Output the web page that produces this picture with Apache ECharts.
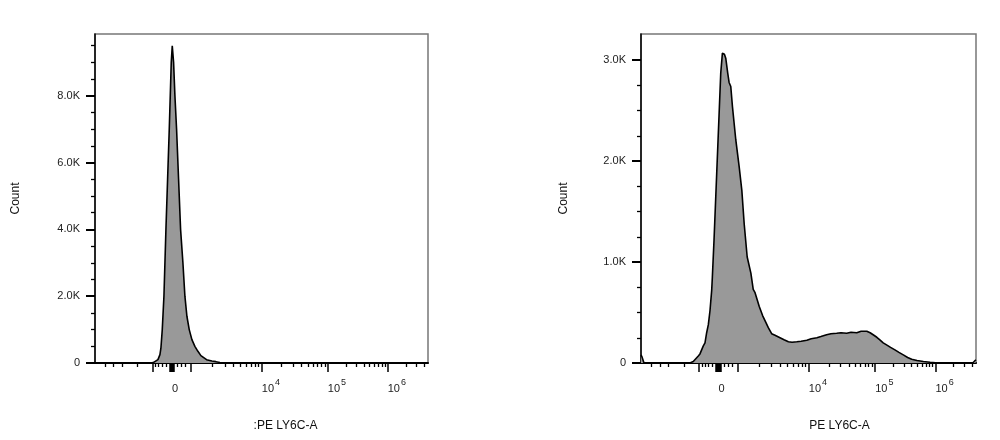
<!DOCTYPE html>
<html><head><meta charset="utf-8">
<script src="https://cdn.jsdelivr.net/npm/echarts@6/dist/echarts.min.js"></script>
<style>html,body{margin:0;padding:0;background:#fff}#c{width:1000px;height:440px}</style>
</head><body><div id="c"></div>
<script>
// ---- data (x in display channels 0..1000 of the biexponential axis, y = Count) ----
const leftChannels = [0,165,175,180,189,195,198,202,207,213,218,223,229,232,236,240,245,251,257,264,270,276,283,291,300,309,318,335,351,363,375,381,1000];
const leftCounts   = [0,0,10,30,100,250,450,1000,2000,4000,5500,7000,9000,9500,9000,8000,7000,5500,4000,3000,2000,1400,1000,700,500,350,220,100,60,40,15,0,0];

const rightChannels = [0,3,9,121,146,156,171,176,186,191,196,201,206,211,213,218,222,226,230,234,238,243,246,249,253,259,263,268,273,283,293,301,308,317,328,335,340,353,363,373,380,390,400,415,427,440,451,465,478,495,508,525,537,554,567,584,597,614,627,644,657,674,684,693,704,713,723,733,745,758,770,783,796,808,824,843,863,888,990,996,1000];
const rightCounts   = [80,60,0,0,0,15,70,90,170,200,300,380,520,720,850,1220,1550,1880,2210,2540,2870,3070,3075,3060,3020,2870,2780,2740,2540,2210,1945,1710,1380,1050,890,730,700,560,470,400,350,290,275,250,230,210,205,210,215,225,240,250,262,280,290,295,300,295,305,300,315,315,300,280,255,230,200,180,155,130,105,80,55,37,25,15,8,0,0,20,30];

// ---- axes ----
const leftYMax = 9850, rightYMax = 3260;
const leftYMajor = [0,2000,4000,6000,8000];
const leftYMinor = [500,1000,1500,2500,3000,3500,4500,5000,5500,6500,7000,7500,8500,9000,9500];
const rightYMajor = [0,1000,2000,3000];
const rightYMinor = [250,500,750,1250,1500,1750,2250,2500,2750];

const xLabelValues = [0,1e4,1e5,1e6];
const xLabelExp    = ['',  '4', '5', '6'];
const xMajorValues = [-1000,-120,-80,-40,0,40,80,120,1000,1e4,1e5,1e6];
const xMinorValues = [-9000,-6000,-4000,-2000,-850,-700,-500,-300,300,500,700,
  2e3,3e3,4e3,5e3,6e3,7e3,8e3,9e3,
  2e4,3e4,4e4,5e4,6e4,7e4,8e4,9e4,
  2e5,3e5,4e5,5e5,6e5,7e5,8e5,9e5,
  2e6,3e6,4e6];

const leftXName = ':PE LY6C-A';
const rightXName = 'PE LY6C-A';
const yName = 'Count';

// biexponential display transform (fluorescence value -> channel)
function chan(v){
  if (Math.abs(v) <= 1000) return 231 + v*0.058;
  if (v < -1000) return 173 - 150*Math.log10(-v/1e3);
  if (v < 1e4) return 289 + 212*Math.log10(v/1e3);
  if (v < 1e5) return 501 + 198*Math.log10(v/1e4);
  if (v < 1e6) return 699 + 180*Math.log10(v/1e5);
  return 879 + 180*Math.log10(v/1e6);
}

const FONT = 'Liberation Sans, Arial, sans-serif';
const labelChans = xLabelValues.map(chan);

function xLabelFmt(val){
  let idx = 0, best = 1e9;
  labelChans.forEach((c,i)=>{ const d=Math.abs(c-val); if(d<best){best=d;idx=i;} });
  const v = xLabelValues[idx];
  if (v === 0) return '{b|0}{s| }';
  return '{b|10}{s|' + xLabelExp[idx] + '}';
}

function makeX(gridIndex, name, pad){
  return [{
    type:'value', gridIndex, min:0, max:1000, position:'bottom',
    axisLine:{show:true, onZero:false, lineStyle:{color:'#000', width:2}},
    axisTick:{show:true, customValues: xMajorValues.map(chan), length:9, lineStyle:{color:'#000', width:1.5}},
    axisLabel:{show:true, customValues: labelChans, formatter: xLabelFmt, align:'left', margin:15,
      rich:{ b:{fontSize:11, fontFamily:FONT, color:'#222', verticalAlign:'bottom'},
             s:{fontSize:9, fontFamily:FONT, color:'#222', verticalAlign:'bottom', padding:[0,0,7,1]} } },
    splitLine:{show:false},
    name, nameLocation:'middle', nameGap:57,
    nameTextStyle:{fontSize:12, fontFamily:FONT, color:'#111', padding:[0,0,0,pad]}
  },{
    type:'value', gridIndex, min:0, max:1000, position:'bottom',
    axisLine:{show:false, onZero:false},
    axisTick:{show:true, customValues: xMinorValues.map(chan), length:4, lineStyle:{color:'#000', width:1.3}},
    axisLabel:{show:false}, splitLine:{show:false}
  }];
}

function yFmt(v){ return v === 0 ? '0' : (v/1000).toFixed(1) + 'K'; }

function makeY(gridIndex, max, major, minor, gap){
  return [{
    type:'value', gridIndex, min:0, max, position:'left',
    axisLine:{show:true, lineStyle:{color:'#000', width:1.5}},
    axisTick:{show:true, customValues: major, length:9, lineStyle:{color:'#000', width:2}},
    axisLabel:{show:true, customValues: major, formatter: yFmt, margin:15, fontSize:11, fontFamily:FONT, color:'#222'},
    splitLine:{show:false},
    name: yName, nameLocation:'middle', nameGap:gap,
    nameTextStyle:{fontSize:12, fontFamily:FONT, color:'#111'}
  },{
    type:'value', gridIndex, min:0, max, position:'left',
    axisLine:{show:false},
    axisTick:{show:true, customValues: minor, length:4, lineStyle:{color:'#000', width:1.3}},
    axisLabel:{show:false}, splitLine:{show:false}
  }];
}

function pairs(xs, ys){ return xs.map((x,i)=>[x, ys[i]]); }

const seriesStyle = {
  type:'line', symbol:'none', showSymbol:false, smooth:false,
  lineStyle:{color:'#000', width:1.6},
  areaStyle:{color:'#999999', opacity:1},
  animation:false, z:3
};

const chart = echarts.init(document.getElementById('c'), null, {renderer:'canvas'});
chart.setOption({
  animation:false,
  backgroundColor:'#fff',
  grid:[
    {left:95, right:572, top:34, bottom:77, show:true, borderColor:'#777', borderWidth:1.5, backgroundColor:'transparent'},
    {left:641, right:24, top:34, bottom:77, show:true, borderColor:'#777', borderWidth:1.5, backgroundColor:'transparent'}
  ],
  xAxis: [...makeX(0, leftXName, 48), ...makeX(1, rightXName, 62)],
  yAxis: [...makeY(0, leftYMax, leftYMajor, leftYMinor, 73), ...makeY(1, rightYMax, rightYMajor, rightYMinor, 71)],
  series:[
    Object.assign({}, seriesStyle, {xAxisIndex:0, yAxisIndex:0, data: pairs(leftChannels, leftCounts)}),
    Object.assign({}, seriesStyle, {xAxisIndex:2, yAxisIndex:2, data: pairs(rightChannels, rightCounts)})
  ]
});
</script></body></html>
